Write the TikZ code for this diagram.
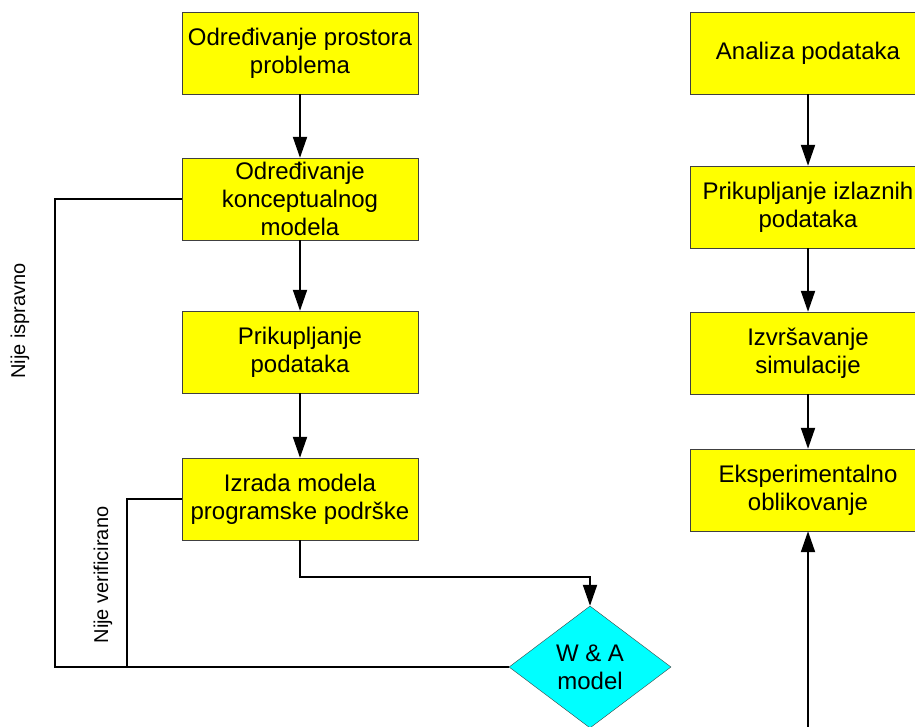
\documentclass[tikz,border=0pt]{standalone}
\usepackage{fontspec}
\setmainfont{Liberation Sans}
\usetikzlibrary{arrows.meta,shapes.geometric}
\definecolor{zuta}{RGB}{255,255,0}
\definecolor{tirkiz}{RGB}{0,255,255}

\begin{document}
\begin{tikzpicture}[x=1pt,y=-1pt,>={Triangle[length=21pt,width=14pt]},
  blok/.style={rectangle,draw=black!75,fill=zuta,minimum width=236pt,minimum height=82pt,inner sep=0pt,align=center,font=\fontsize{24}{28}\selectfont},
  odluka/.style={diamond,draw=black!75,fill=tirkiz,minimum width=162pt,minimum height=122pt,inner sep=0pt,align=center,font=\fontsize{24}{28}\selectfont},
  veza/.style={line width=2pt,black},
  oznaka/.style={rotate=90,font=\fontsize{20}{24}\selectfont}]
\clip (0,0) rectangle (915,727);
% lijevi stupac
\node[blok] (b1) at (300,53) {Određivanje prostora\\problema};
\node[blok] (b2) at (300,199) {Određivanje\\konceptualnog\\modela};
\node[blok] (b3) at (300,352) {Prikupljanje\\podataka};
\node[blok] (b4) at (300,499) {Izrada modela\\programske podrške};
\node[odluka] (wa) at (590,667) {W \& A\\model};
% desni stupac
\node[blok] (d1) at (808,53) {Analiza podataka};
\node[blok] (d2) at (808,207) {Prikupljanje izlaznih\\podataka};
\node[blok] (d3) at (808,353) {Izvršavanje\\simulacije};
\node[blok] (d4) at (808,490) {Eksperimentalno\\oblikovanje};
% oznake povratnih veza
\node[oznaka] (ni) at (20,321) {Nije ispravno};
\node[oznaka] (nv) at (103,575) {Nije verificirano};
\coordinate (l1) at (55,667);
\coordinate (l2) at (127,667);
\coordinate (ulaz) at (808,727);
% veze
\draw[veza,->] (b1) -- (b2);
\draw[veza,->] (b2) -- (b3);
\draw[veza,->] (b3) -- (b4);
\draw[veza,->] (b4.south) -- ++(0,37) -| (wa.north);
\draw[veza] (wa.west) -- (l1) |- (b2.west);
\draw[veza] (l2) |- (b4.west);
\draw[veza,->] (d1) -- (d2);
\draw[veza,->] (d2) -- (d3);
\draw[veza,->] (d3) -- (d4);
\draw[veza,->] (ulaz) -- (d4);
\end{tikzpicture}
\end{document}
